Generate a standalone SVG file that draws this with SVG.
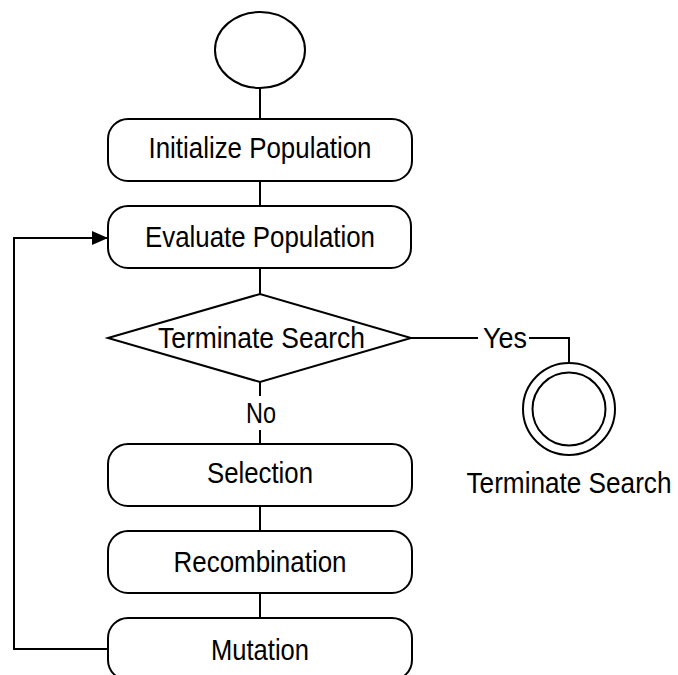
<svg xmlns="http://www.w3.org/2000/svg" width="678" height="675" viewBox="0 0 678 675">
  <style>
    .shape { fill: #ffffff; stroke: #000000; stroke-width: 2; }
    .edge { fill: none; stroke: #000000; stroke-width: 2; }
    .lbl { font-family: "Liberation Sans", Arial, sans-serif; font-size: 26px; fill: #000000; text-anchor: middle; }
    .lblbg { fill: #ffffff; stroke: none; }
  </style>
  <defs>
    <marker id="arrow" markerWidth="16" markerHeight="14" refX="16" refY="7" orient="auto" markerUnits="userSpaceOnUse">
      <path d="M0,0 L16,7 L0,14 Z" fill="#000000"/>
    </marker>
  </defs>
  <rect width="678" height="675" fill="#ffffff"/>

  <g id="connectors">
    <path class="edge" d="M260,88 V119"/>
    <path class="edge" d="M260,181 V206"/>
    <path class="edge" d="M260,268 V294"/>
    <path class="edge" d="M260,382 V444"/>
    <path class="edge" d="M260,506 V531"/>
    <path class="edge" d="M260,593 V618"/>
    <path class="edge" d="M108,649 H14 V238 H108" marker-end="url(#arrow)"/>
    <path class="edge" d="M411,338 H569 V363"/>
    <g id="label-no">
      <rect class="lblbg" x="243" y="396" width="36" height="34"/>
      <text class="lbl" transform="translate(261,423) scale(1,1.15)" textLength="30" lengthAdjust="spacingAndGlyphs">No</text>
    </g>
    <g id="label-yes">
      <rect class="lblbg" x="478" y="324" width="51" height="28"/>
      <text class="lbl" transform="translate(505,348) scale(1,1.15)" textLength="44" lengthAdjust="spacingAndGlyphs">Yes</text>
    </g>
  </g>

  <g id="start">
    <ellipse class="shape" cx="260" cy="50" rx="45" ry="38"/>
  </g>

  <g id="initialize">
    <rect class="shape" x="108" y="119" width="304" height="62" rx="20" ry="20"/>
    <text class="lbl" transform="translate(260,158) scale(1,1.15)" textLength="223" lengthAdjust="spacingAndGlyphs">Initialize Population</text>
  </g>

  <g id="evaluate">
    <rect class="shape" x="108" y="206" width="303" height="62" rx="20" ry="20"/>
    <text class="lbl" transform="translate(260,247) scale(1,1.15)" textLength="230" lengthAdjust="spacingAndGlyphs">Evaluate Population</text>
  </g>

  <g id="decision">
    <polygon class="shape" points="108,338 260,294 411,338 260,382"/>
    <text class="lbl" transform="translate(261.5,348) scale(1,1.15)" textLength="207" lengthAdjust="spacingAndGlyphs">Terminate Search</text>
  </g>

  <g id="end">
    <circle class="shape" cx="569" cy="409" r="46"/>
    <circle class="shape" cx="569" cy="409" r="36.5"/>
    <text class="lbl" transform="translate(569,493) scale(1,1.15)" textLength="205" lengthAdjust="spacingAndGlyphs">Terminate Search</text>
  </g>

  <g id="selection">
    <rect class="shape" x="108" y="444" width="304" height="62" rx="20" ry="20"/>
    <text class="lbl" transform="translate(260,483) scale(1,1.15)" textLength="106" lengthAdjust="spacingAndGlyphs">Selection</text>
  </g>

  <g id="recombination">
    <rect class="shape" x="108" y="531" width="304" height="62" rx="20" ry="20"/>
    <text class="lbl" transform="translate(260,572) scale(1,1.15)" textLength="173" lengthAdjust="spacingAndGlyphs">Recombination</text>
  </g>

  <g id="mutation">
    <rect class="shape" x="108" y="618" width="304" height="62" rx="20" ry="20"/>
    <text class="lbl" transform="translate(260,660) scale(1,1.15)" textLength="98" lengthAdjust="spacingAndGlyphs">Mutation</text>
  </g>
</svg>
